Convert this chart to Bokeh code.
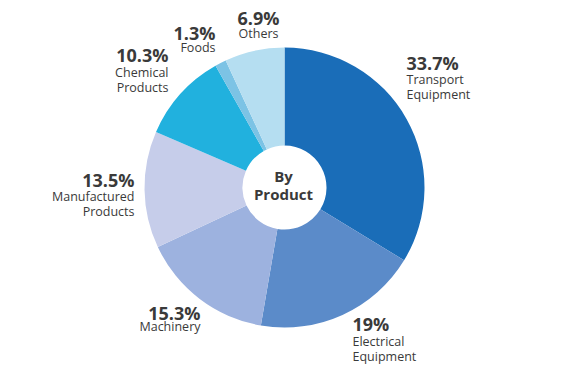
import math
from bokeh.plotting import figure
from bokeh.models import Range1d, ColumnDataSource
from bokeh.core.properties import value
from bokeh.embed import file_html
from bokeh.resources import INLINE

# ---- data ----
categories = ["Transport Equipment", "Electrical Equipment", "Machinery",
              "Manufactured Products", "Chemical Products", "Foods", "Others"]
shares = [33.7, 19.0, 15.3, 13.5, 10.3, 1.3, 6.9]
pct_labels = ["33.7%", "19%", "15.3%", "13.5%", "10.3%", "1.3%", "6.9%"]
name_lines = [["Transport", "Equipment"], ["Electrical", "Equipment"], ["Machinery"],
              ["Manufactured", "Products"], ["Chemical", "Products"], ["Foods"], ["Others"]]
colors = ["#1a6db8", "#5b8bc9", "#9db2df", "#c6cdea", "#21b1de", "#7cc3e5", "#b5def1"]

# ---- layout (screen-pixel coordinates, y measured from top of picture) ----
W, H = 572, 372
CX, CY = 284, 187
R_OUT, R_IN = 140, 42
# label anchor: (x, pct baseline, first name baseline, align)
label_pos = [
    (406, 69, 84, "left"),
    (352, 330, 346, "left"),
    (200, 319, 331, "right"),
    (134, 186, 201, "right"),
    (168, 61, 77, "right"),
    (215, 39, 52, "right"),
    (258, 24, 38, "center"),
]
PCT_SHIFT, NAME_SHIFT, CENTER_SHIFT = 7, 5.5, 7
LINE_STEP = 15.5
TXT = "#3a3a3a"
FONT = "Open Sans"

def fy(y):
    return 380 - y

p = figure(width=W, height=H, output_backend="svg", toolbar_location=None,
           x_range=Range1d(0, W), y_range=Range1d(380 - H, 380),
           min_border=0)
p.axis.visible = False
p.grid.visible = False
p.outline_line_color = None
p.background_fill_color = "white"
p.border_fill_color = "white"

total = sum(shares)
starts, ends = [], []
acc = 0.0
for s in shares:
    starts.append(math.pi / 2 - acc / total * 2 * math.pi)
    acc += s
    ends.append(math.pi / 2 - acc / total * 2 * math.pi)

src = ColumnDataSource(dict(cat=categories, share=shares, start=starts, end=ends, color=colors))
p.annular_wedge(x=CX, y=fy(CY), inner_radius=R_IN, outer_radius=R_OUT,
                start_angle="start", end_angle="end", direction="clock",
                fill_color="color", line_color=None, source=src)

for (x, yb, yn, align), pct, names in zip(label_pos, pct_labels, name_lines):
    p.text(x=[x], y=[fy(yb - PCT_SHIFT)], text=[pct], text_font=value(FONT), text_font_style="bold",
           text_font_size="18px", text_color=TXT, text_align=align, text_baseline="alphabetic")
    for i, nm in enumerate(names):
        p.text(x=[x], y=[fy(yn - NAME_SHIFT + i * LINE_STEP)], text=[nm], text_font=value(FONT),
               text_font_size="12.5px", text_color=TXT, text_align=align,
               text_baseline="alphabetic")

p.text(x=[CX - 1, CX - 1], y=[fy(182 - CENTER_SHIFT), fy(200 - CENTER_SHIFT)],
       text=["By", "Product"], text_font=value(FONT),
       text_font_style="bold", text_font_size="15px", text_color=TXT, text_align="center",
       text_baseline="alphabetic")

open("out.html", "w").write(file_html(p, INLINE))
